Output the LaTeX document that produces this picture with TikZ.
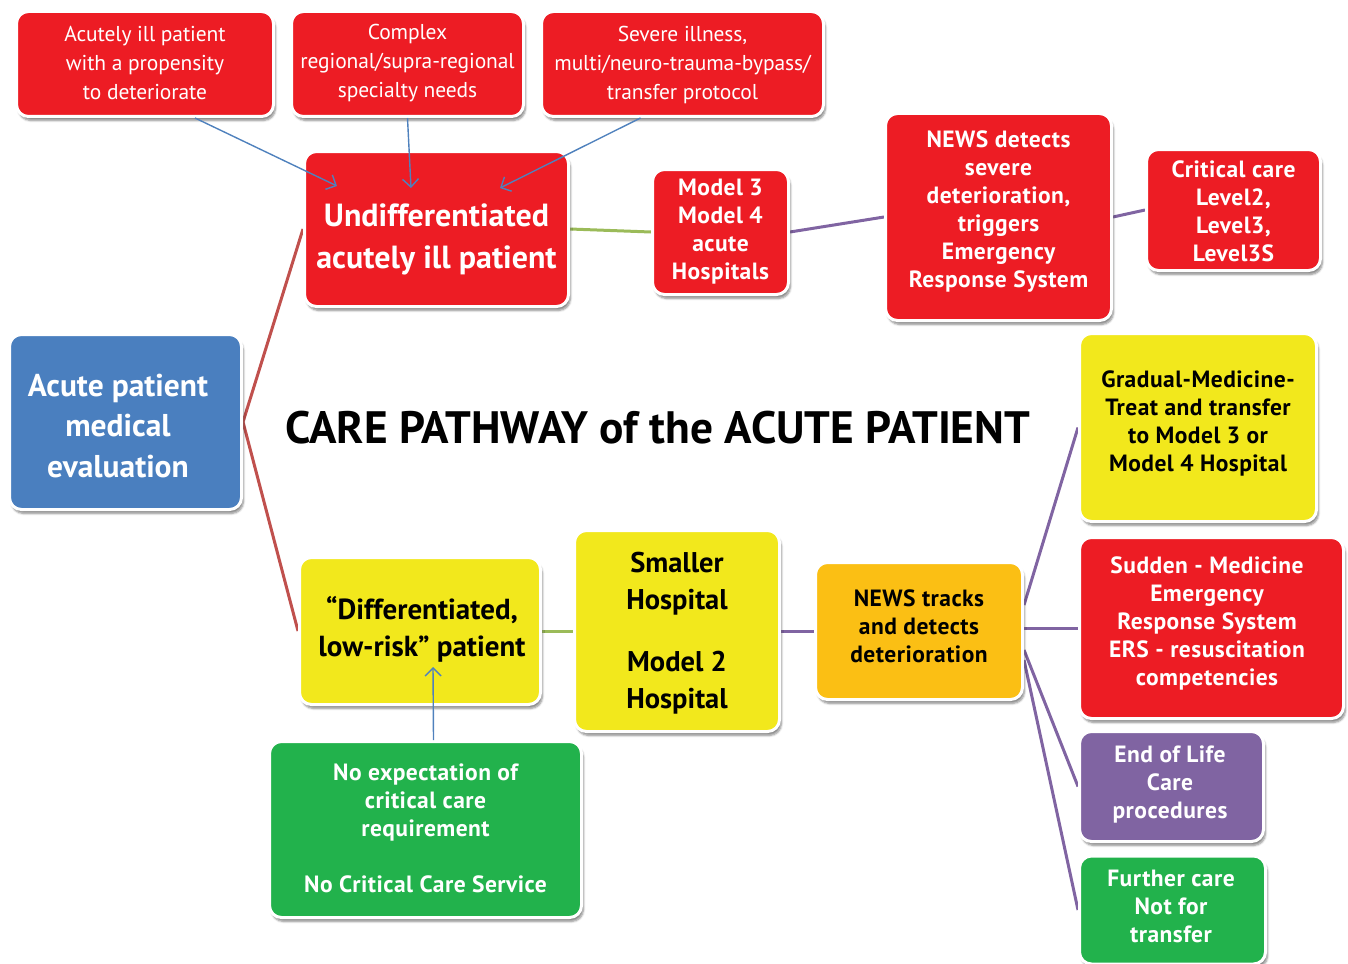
\documentclass[tikz,border=0pt]{standalone}
\usepackage{fontspec}
\setmainfont{PT Sans}
\usetikzlibrary{arrows.meta,shadows.blur,backgrounds}
\definecolor{cred}{HTML}{ED1C24}
\definecolor{cyel}{HTML}{F2E81C}
\definecolor{corg}{HTML}{FBBF14}
\definecolor{cgrn}{HTML}{22B24C}
\definecolor{cpur}{HTML}{8064A2}
\definecolor{cblu}{HTML}{4A7FBF}
\definecolor{lred}{HTML}{C0504D}
\definecolor{lgrn}{HTML}{9BBB59}
\definecolor{larr}{HTML}{4F81BD}
\newcommand{\regtxt}{\fontsize{21.5}{29}\selectfont\addfontfeatures{LetterSpace=-0.5}}
\newcommand{\smbold}{\bfseries\fontsize{23.5}{28}\selectfont\addfontfeatures{LetterSpace=2}}
\begin{document}
\begin{tikzpicture}[x=1pt,y={(0pt,-1pt)},
  box/.style={draw=white,line width=3pt,rounded corners=12pt,inner sep=0pt,
    blur shadow={shadow xshift=2pt,shadow yshift=-4pt,shadow opacity=45,shadow blur steps=6}},
  wtxt/.style={text=white,align=center,inner sep=0pt},
  ktxt/.style={text=black,align=center,inner sep=0pt},
  lnk/.style={line width=3pt},
  arr/.style={draw=larr,line width=1.4pt,-{Straight Barb[length=8pt,width=16pt,line width=1.4pt]}},
]
\useasboundingbox (0,0) rectangle (1348,963);
% boxes
\node[box,fill=cred,minimum width=257pt,minimum height=105pt] (b1) at (145,64) {};
\node[box,fill=cred,minimum width=232pt,minimum height=105pt] (b2) at (407.5,64) {};
\node[box,fill=cred,minimum width=282pt,minimum height=105pt] (b3) at (682.5,64) {};
\node[box,fill=cred,minimum width=264pt,minimum height=155pt] (und) at (436.5,229) {};
\node[box,fill=cred,minimum width=136pt,minimum height=125pt] (m3) at (720.5,232) {};
\node[box,fill=cred,minimum width=226pt,minimum height=207pt] (nd) at (998.5,217) {};
\node[box,fill=cred,minimum width=174pt,minimum height=121pt] (cc) at (1233.5,210) {};
\node[box,fill=cblu,minimum width=232pt,minimum height=175pt] (ape) at (125.5,422) {};
\node[box,fill=cyel,minimum width=241pt,minimum height=147pt] (dif) at (420,631) {};
\node[box,fill=cyel,minimum width=205pt,minimum height=201pt] (sh) at (677,631) {};
\node[box,fill=corg,minimum width=207pt,minimum height=137pt] (nt) at (919,631) {};
\node[box,fill=cyel,minimum width=237pt,minimum height=188pt] (gm) at (1198,427.5) {};
\node[box,fill=cred,minimum width=264pt,minimum height=181pt] (sm) at (1211.5,628) {};
\node[box,fill=cpur,minimum width=184pt,minimum height=110pt] (eol) at (1171.5,786.5) {};
\node[box,fill=cgrn,minimum width=186pt,minimum height=108pt] (fc) at (1172.5,910) {};
\node[box,fill=cgrn,minimum width=312pt,minimum height=176pt] (ne) at (425.5,829.5) {};
% texts
\node[wtxt,font=\regtxt] (t1) at (145,63) {Acutely ill patient\\with a propensity\\to deteriorate};
\node[wtxt,font=\regtxt] (t2) at (407.5,63) {Complex\\regional/supra-regional\\specialty needs};
\node[wtxt,font=\regtxt] (t3) at (682.5,65) {Severe illness,\\multi/neuro-trauma-bypass/\\transfer protocol};
\node[wtxt,font=\bfseries\fontsize{32}{42}\selectfont] (tu) at (436.5,239) {Undifferentiated\\acutely ill patient};
\node[wtxt,font=\smbold] (tm3) at (720.5,232) {Model 3\\Model 4\\acute\\Hospitals};
\node[wtxt,font=\smbold] (tnd) at (998.5,212) {NEWS detects\\severe\\deterioration,\\triggers\\Emergency\\Response System};
\node[wtxt,font=\smbold] (tcc) at (1233.5,211) {Critical care\\Level2,\\Level3,\\Level3S};
\node[wtxt,font=\bfseries\fontsize{31.5}{40.5}\selectfont] (tape) at (118,426) {Acute patient\\medical\\evaluation};
\node[ktxt,font=\bfseries\fontsize{45.4}{50}\selectfont] (title) at (658,428) {CARE PATHWAY of the ACUTE PATIENT};
\node[ktxt,font=\bfseries\fontsize{29}{37}\selectfont] (tdif) at (422,629.5) {“Differentiated,\\low-risk” patient};
\node[ktxt,font=\bfseries\fontsize{28.5}{37}\selectfont] (tsh) at (677,633) {Smaller\\Hospital\\[25pt]Model 2\\Hospital};
\node[ktxt,font=\smbold] (tnt) at (919,626) {NEWS tracks\\and detects\\deterioration};
\node[ktxt,font=\smbold] (tgm) at (1198,423) {Gradual-Medicine-\\Treat and transfer\\to Model 3 or\\Model 4 Hospital};
\node[wtxt,font=\smbold] (tsm) at (1207,623) {Sudden - Medicine\\Emergency\\Response System\\ERS - resuscitation\\competencies};
\node[wtxt,font=\smbold] (teol) at (1170,784) {End of Life\\Care\\procedures};
\node[wtxt,font=\smbold] (tfc) at (1171,906) {Further care\\Not for\\transfer};
\node[wtxt,font=\smbold] (tne) at (425.5,828) {No expectation of\\critical care\\requirement\\[28pt]No Critical Care Service};
% connectors behind boxes
\begin{scope}[on background layer]
\draw[lnk,draw=lred] (ape.east) -- (und.west);
\draw[lnk,draw=lred] (ape.east) -- (dif.west);
\draw[lnk,draw=lgrn] (und.east) -- (m3.west);
\draw[lnk,draw=lgrn] (dif.east) -- (sh.west);
\draw[lnk,draw=cpur] (m3.east) -- (nd.west);
\draw[lnk,draw=cpur] (nd.east) -- (cc.west);
\draw[lnk,draw=cpur] (sh.east) -- (nt.west);
\draw[lnk,draw=cpur] ([yshift=26pt]nt.east) -- (gm.west);
\draw[lnk,draw=cpur] ([yshift=3pt]nt.east) -- (sm.west);
\draw[lnk,draw=cpur] ([yshift=-19pt]nt.east) -- (eol.west);
\draw[lnk,draw=cpur] ([yshift=-29pt]nt.east) -- (fc.west);
\end{scope}
% arrows
\coordinate (a1) at (337,186);
\coordinate (a2) at (411,188);
\coordinate (a3) at (500,188);
\coordinate (a4) at (433,667);
\draw[arr] ([xshift=50pt]b1.south) -- (a1);
\draw[arr] (b2.south) -- (a2);
\draw[arr] ([xshift=-42pt]b3.south) -- (a3);
\draw[arr] ([xshift=8pt]ne.north) -- (a4);
\end{tikzpicture}
\end{document}
